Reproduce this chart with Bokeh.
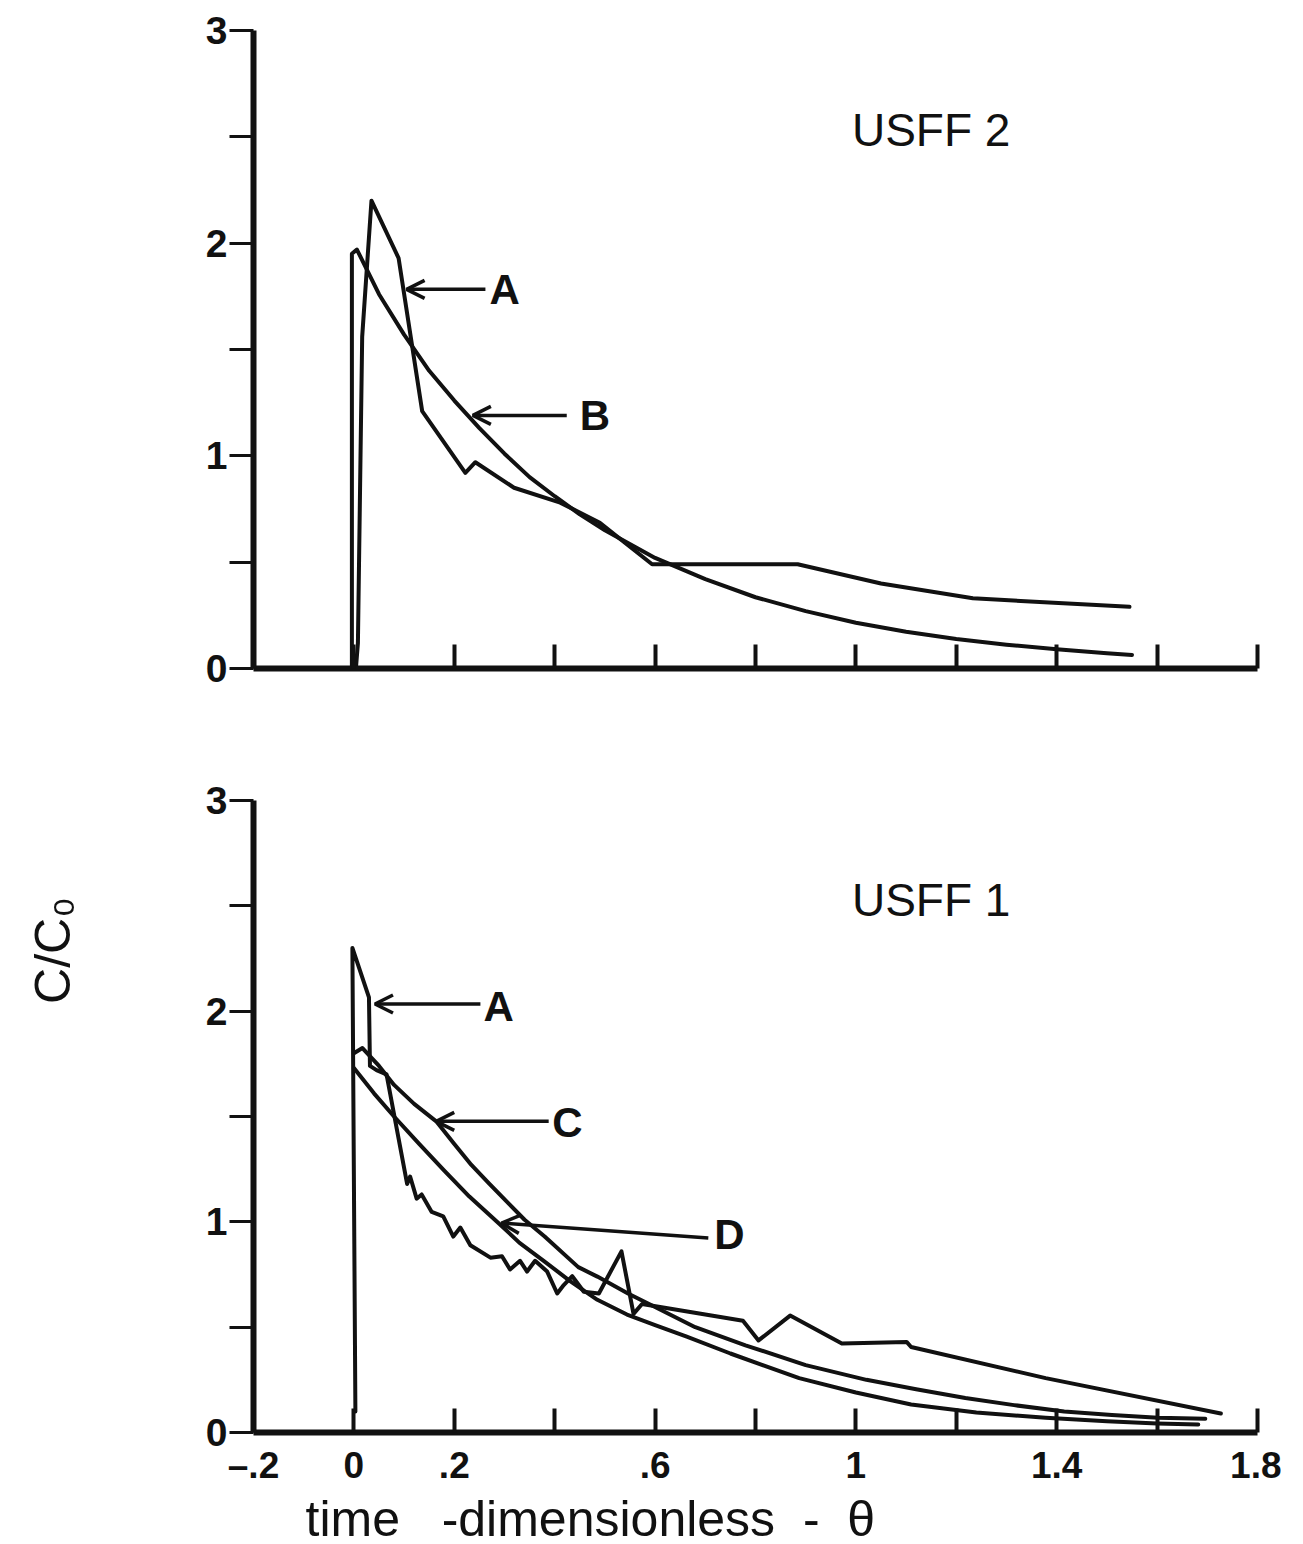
import math
from bokeh.plotting import figure
from bokeh.models import (FixedTicker, Label, Arrow, OpenHead, Range1d,
                          CustomJSTickFormatter, Title)
from bokeh.layouts import column, row
from bokeh.embed import file_html
from bokeh.resources import INLINE

# ---------------- data ----------------
theta_ticks = [-0.2, 0.0, 0.2, 0.4, 0.6, 0.8, 1.0, 1.2, 1.4, 1.6, 1.8]
theta_labels = ["\u2013.2", "0", ".2", "", ".6", "", "1", "", "1.4", "", "1.8"]
c_ticks = [0.0, 0.5, 1.0, 1.5, 2.0, 2.5, 3.0]
c_labels = ["0", "", "1", "", "2", "", "3"]

# USFF 2 -- curve A (measured)
usff2_a_theta = [0.004, 0.008, 0.0165, 0.035, 0.089, 0.136, 0.222, 0.242, 0.319,
                 0.411, 0.49, 0.594, 0.884, 1.05, 1.233, 1.545]
usff2_a_c = [0.0, 0.12, 1.56, 2.20, 1.93, 1.21, 0.92, 0.97, 0.85,
             0.78, 0.685, 0.49, 0.49, 0.40, 0.33, 0.29]
# USFF 2 -- curve B (model)
usff2_b_theta = [-0.004, -0.004, 0.006, 0.05, 0.1, 0.15, 0.2, 0.25, 0.3, 0.35, 0.4,
                 0.45, 0.5, 0.6, 0.7, 0.8, 0.9, 1.0, 1.1, 1.2, 1.3, 1.4, 1.5, 1.55]
usff2_b_c = [0.0, 1.95, 1.97, 1.76, 1.57, 1.40, 1.26, 1.13, 1.01, 0.90, 0.81,
             0.725, 0.65, 0.52, 0.42, 0.335, 0.27, 0.215, 0.173, 0.139, 0.112,
             0.09, 0.072, 0.064]

# USFF 1 -- curve A (measured)
usff1_a_theta = [0.003, -0.003, 0.03, 0.032, 0.045, 0.065, 0.106, 0.112, 0.125,
                 0.135, 0.155, 0.178, 0.198, 0.212, 0.232, 0.272, 0.295, 0.311,
                 0.331, 0.345, 0.361, 0.385, 0.405, 0.418, 0.435, 0.458, 0.488,
                 0.533, 0.557, 0.574, 0.775, 0.806, 0.869, 0.972, 1.101, 1.11,
                 1.378, 1.727]
usff1_a_c = [0.10, 2.30, 2.065, 1.74, 1.72, 1.70, 1.18, 1.215, 1.11,
             1.13, 1.047, 1.026, 0.93, 0.973, 0.889, 0.83, 0.837, 0.774,
             0.815, 0.764, 0.815, 0.764, 0.66, 0.70, 0.742, 0.668, 0.66,
             0.86, 0.563, 0.61, 0.53, 0.437, 0.555, 0.422, 0.43, 0.406,
             0.258, 0.09]
# USFF 1 -- curve C (model)
usff1_c_theta = [0.0, 0.017, 0.05, 0.08, 0.12, 0.164, 0.2, 0.234, 0.27, 0.307,
                 0.34, 0.38, 0.447, 0.485, 0.546, 0.588, 0.68, 0.78, 0.9, 1.021,
                 1.12, 1.218, 1.315, 1.415, 1.51, 1.602, 1.696]
usff1_c_c = [1.80, 1.825, 1.74, 1.65, 1.56, 1.477, 1.37, 1.27, 1.18, 1.09,
             1.01, 0.93, 0.785, 0.74, 0.66, 0.61, 0.50, 0.414, 0.32, 0.25,
             0.205, 0.164, 0.13, 0.10, 0.083, 0.07, 0.065]
# USFF 1 -- curve D (model)
usff1_d_theta = [0.0, 0.04, 0.08, 0.13, 0.179, 0.23, 0.29, 0.33, 0.378, 0.43,
                 0.485, 0.544, 0.6, 0.663, 0.75, 0.887, 1.0, 1.11, 1.24, 1.378,
                 1.5, 1.6, 1.682]
usff1_d_c = [1.73, 1.61, 1.50, 1.37, 1.246, 1.12, 0.99, 0.90, 0.815, 0.72,
             0.63, 0.56, 0.51, 0.455, 0.375, 0.258, 0.19, 0.133, 0.095, 0.07,
             0.053, 0.043, 0.038]

FONT = "Liberation Sans"
INK = "#111111"
LEFT_STRIP = 100          # width of the strip that holds the vertical axis title


def fmt(tick_values, tick_texts):
    return CustomJSTickFormatter(args=dict(tv=tick_values, tl=tick_texts), code="""
        for (let i = 0; i < tv.length; i++) {
            if (Math.abs(tv[i] - tick) < 1e-6) return tl[i];
        }
        return "";
    """)


def make_panel(frame_h, top, bottom, show_x_labels):
    p = figure(frame_width=1004, frame_height=frame_h,
               x_range=Range1d(-0.2, 1.8), y_range=Range1d(0, 3),
               output_backend="svg", toolbar_location=None,
               min_border_left=253 - LEFT_STRIP, min_border_right=24,
               min_border_top=top, min_border_bottom=bottom,
               background_fill_color="white", border_fill_color="white")
    p.outline_line_color = None
    p.xgrid.visible = False
    p.ygrid.visible = False

    xa = p.xaxis[0]
    xa.ticker = FixedTicker(ticks=theta_ticks)
    xa.formatter = fmt(theta_ticks, theta_labels if show_x_labels else [""] * len(theta_ticks))
    xa.axis_line_width = 6
    xa.axis_line_color = INK
    xa.major_tick_in = 24
    xa.major_tick_out = 0
    xa.major_tick_line_width = 4
    xa.major_tick_line_color = INK
    xa.minor_tick_line_color = None
    xa.major_label_standoff = 12
    xa.major_label_text_font = FONT
    xa.major_label_text_font_style = "bold"
    xa.major_label_text_font_size = "37px"
    xa.major_label_text_color = INK

    ya = p.yaxis[0]
    ya.ticker = FixedTicker(ticks=c_ticks)
    ya.formatter = fmt(c_ticks, c_labels)
    ya.axis_line_width = 6
    ya.axis_line_color = INK
    ya.major_tick_in = 0
    ya.major_tick_out = 24
    ya.major_tick_line_width = 3
    ya.major_tick_line_color = INK
    ya.minor_tick_line_color = None
    ya.major_label_standoff = 2
    ya.major_label_text_font = FONT
    ya.major_label_text_font_style = "bold"
    ya.major_label_text_font_size = "39px"
    ya.major_label_text_color = INK
    return p


def curve(p, xs, ys):
    p.line(xs, ys, line_width=4, line_color=INK, line_join="round", line_cap="round")


def tag(p, x_tip, x_tail, y_tip, y_tail, text, x_text, y_text):
    p.add_layout(Arrow(end=OpenHead(size=18, line_width=3.5, line_color=INK),
                       x_start=x_tail, y_start=y_tail, x_end=x_tip, y_end=y_tip,
                       line_width=3.5, line_color=INK))
    p.add_layout(Label(x=x_text, y=y_text, text=text, text_font=FONT,
                       text_font_style="bold", text_font_size="42px",
                       text_align="left", text_baseline="middle", text_color=INK))


# ---------------- top panel: USFF 2 ----------------
p1 = make_panel(638, 30, 40, False)
curve(p1, usff2_b_theta, usff2_b_c)
curve(p1, usff2_a_theta, usff2_a_c)
p1.add_layout(Label(x=1.15, y=2.53, text="USFF 2", text_font=FONT,
                    text_font_size="46px", text_align="center",
                    text_baseline="middle", text_color=INK))
tag(p1, 0.105, 0.262, 1.783, 1.783, "A", 0.27, 1.78)
tag(p1, 0.237, 0.424, 1.19, 1.19, "B", 0.45, 1.19)

# ---------------- bottom panel: USFF 1 ----------------
p2 = make_panel(632, 92, 100, True)
curve(p2, usff1_d_theta, usff1_d_c)
curve(p2, usff1_c_theta, usff1_c_c)
curve(p2, usff1_a_theta, usff1_a_c)
p2.add_layout(Label(x=1.15, y=2.53, text="USFF 1", text_font=FONT,
                    text_font_size="46px", text_align="center",
                    text_baseline="middle", text_color=INK))
tag(p2, 0.042, 0.252, 2.034, 2.034, "A", 0.258, 2.02)
tag(p2, 0.164, 0.388, 1.477, 1.477, "C", 0.395, 1.47)
tag(p2, 0.294, 0.706, 0.994, 0.923, "D", 0.718, 0.94)

x_title = Title(text="time\u00a0\u00a0 -dimensionless\u00a0 - \u00a0\u03b8", align="left",
                offset=52, text_font=FONT, text_font_size="50px",
                text_font_style="normal", text_color=INK, standoff=0)
p2.add_layout(x_title, "below")

# ---------------- strip holding the vertical axis title ----------------
strip_h = 1540
strip = figure(width=LEFT_STRIP, height=strip_h,
               x_range=Range1d(0, LEFT_STRIP), y_range=Range1d(0, strip_h),
               x_axis_location=None, y_axis_location=None,
               output_backend="svg", toolbar_location=None,
               min_border=0, min_border_left=0, min_border_right=0,
               min_border_top=0, min_border_bottom=0,
               background_fill_color="white", border_fill_color="white")
strip.outline_line_color = None
strip.xgrid.visible = False
strip.ygrid.visible = False
strip.add_layout(Label(x=52, y=strip_h - 950, text="C/C\u2080", angle=math.pi / 2,
                       text_font=FONT, text_font_size="50px", text_align="center",
                       text_baseline="middle", text_color=INK))

layout = row(strip, column(p1, p2))
open("out.html", "w").write(file_html(layout, INLINE))
